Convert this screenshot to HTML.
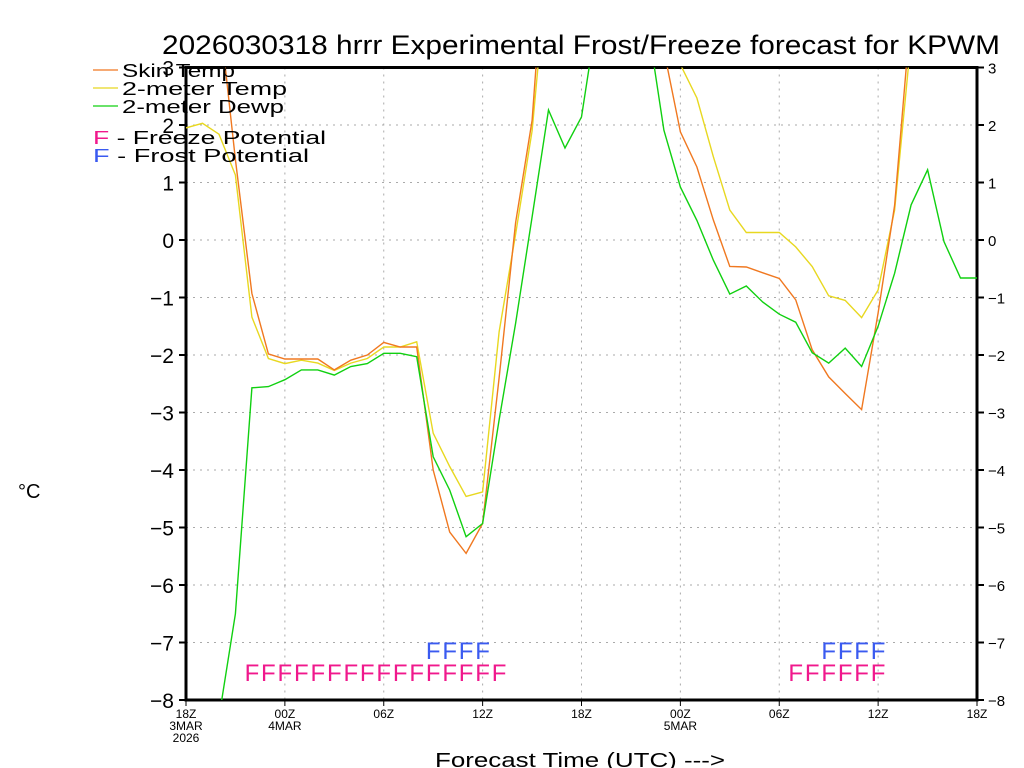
<!DOCTYPE html>
<html><head><meta charset="utf-8">
<style>
html,body{margin:0;padding:0;background:#fff;overflow:hidden;width:1024px;height:768px;}
svg{display:block;font-family:"Liberation Sans","DejaVu Sans",sans-serif;}
</style></head>
<body>
<svg id="chart" width="1024" height="768" viewBox="0 0 1024 768">
<text x="162" y="54" font-size="27" fill="#000" textLength="838" lengthAdjust="spacingAndGlyphs">2026030318 hrrr Experimental Frost/Freeze forecast for KPWM</text>
<text x="18" y="498" font-size="20" fill="#000">°C</text>
<text x="435" y="767" font-size="20" fill="#000" textLength="290" lengthAdjust="spacingAndGlyphs">Forecast Time (UTC) ---&gt;</text>
<g id="grid"></g>
<g id="axes"></g>
<g id="series"></g>
<g id="flags"></g>
<g font-size="18">
  <line x1="93" y1="70" x2="118" y2="70" stroke="#f07820" stroke-width="1.3"/>
  <text x="122" y="77" textLength="113" lengthAdjust="spacingAndGlyphs">Skin Temp</text>
  <line x1="93" y1="88" x2="118" y2="88" stroke="#e8d820" stroke-width="1.3"/>
  <text x="122" y="95" textLength="165" lengthAdjust="spacingAndGlyphs">2-meter Temp</text>
  <line x1="93" y1="106" x2="118" y2="106" stroke="#10d010" stroke-width="1.3"/>
  <text x="122" y="113" textLength="162" lengthAdjust="spacingAndGlyphs">2-meter Dewp</text>
  <text x="93" y="144" textLength="233" lengthAdjust="spacingAndGlyphs"><tspan fill="#f0188c">F</tspan> - Freeze Potential</text>
  <text x="93" y="162" textLength="216" lengthAdjust="spacingAndGlyphs"><tspan fill="#3a5af0">F</tspan> - Frost Potential</text>
</g>
</svg>
<script>
const hours = [0,1,2,3,4,5,6,7,8,9,10,11,12,13,14,15,16,17,18,19,20,21,22,23,24,25,26,27,28,29,30,31,32,33,34,35,36,37,38,39,40,41,42,43,44,45,46,47,48];
const skinTemp = [5,5,4,1.4,-0.93,-1.98,-2.07,-2.07,-2.07,-2.26,-2.09,-2.0,-1.78,-1.86,-1.86,-4.0,-5.08,-5.45,-4.93,-2.4,0.3,2.08,6,6,6,6,6,6,6,3.3,1.88,1.27,0.35,-0.46,-0.47,-0.57,-0.67,-1.04,-1.91,-2.38,-2.67,-2.95,-1.27,0.6,4,null,null,null,null];
const temp2m = [1.95,2.03,1.84,1.13,-1.34,-2.06,-2.15,-2.09,-2.14,-2.27,-2.14,-2.06,-1.86,-1.86,-1.77,-3.36,-3.94,-4.46,-4.38,-1.6,0.1,1.9,5,5,5,5,5,5,5,5,3.05,2.47,1.45,0.52,0.13,0.13,0.13,-0.12,-0.46,-0.97,-1.05,-1.35,-0.87,0.52,3.5,null,null,null,null];
const dewp2m = [-12,-10,-8.3,-6.5,-2.57,-2.55,-2.43,-2.26,-2.26,-2.35,-2.2,-2.15,-1.97,-1.97,-2.03,-3.77,-4.35,-5.16,-4.93,-3.13,-1.45,0.4,2.26,1.6,2.14,4,5,5,3.8,1.91,0.92,0.34,-0.35,-0.94,-0.8,-1.08,-1.29,-1.43,-1.96,-2.14,-1.88,-2.2,-1.5,-0.58,0.61,1.22,-0.03,-0.66,-0.66];
const freezeHours = [4,5,6,7,8,9,10,11,12,13,14,15,16,17,18,19,37,38,39,40,41,42];
const frostHours = [15,16,17,18,39,40,41,42];
const yTicks = [3,2,1,0,-1,-2,-3,-4,-5,-6,-7,-8];
const xTickHours = [0,6,12,18,24,30,36,42,48];
const xTickLabels = ["18Z","00Z","06Z","12Z","18Z","00Z","06Z","12Z","18Z"];
const xTickSub = ["3MAR","4MAR","","","","5MAR","","",""];

const NS="http://www.w3.org/2000/svg";
const L=186,R=977,T=67.5,B=700,HMAX=48,VMIN=-8,VMAX=3;
function xs(h){return L+(h/HMAX)*(R-L);}
function ys(v){return B-(v-VMIN)/(VMAX-VMIN)*(B-T);}
function mk(tag,attrs,parent){const e=document.createElementNS(NS,tag);for(const k in attrs)e.setAttribute(k,attrs[k]);parent.appendChild(e);return e;}
const grid=document.getElementById('grid'),axes=document.getElementById('axes'),series=document.getElementById('series'),flags=document.getElementById('flags');

yTicks.forEach(v=>{
  const y=ys(v);
  if(v>VMIN&&v<VMAX){const g=mk('line',{x1:L,x2:R,y1:y,y2:y,stroke:'#aaa','stroke-dasharray':'2,5'},grid);
  
  }
  const t1=mk('line',{x1:L-7,x2:L,y1:y,y2:y,stroke:'#000','stroke-width':2},axes);
  
  
  const t2=mk('line',{x1:R,x2:R+7,y1:y,y2:y,stroke:'#000','stroke-width':2},axes);
  
  
  const lb=mk('text',{x:L-12,y:y+8,'text-anchor':'end','font-size':21},axes);
  lb.textContent=String(v).replace('-','\u2212');
  
  
  const rb=mk('text',{x:R+11,y:y+6,'font-size':15},axes);
  rb.textContent=String(v).replace('-','\u2212');
  
  
});
xTickHours.forEach((h,i)=>{
  const x=xs(h);
  if(h>0&&h<HMAX){const g=mk('line',{x1:x,x2:x,y1:T,y2:B,stroke:'#aaa','stroke-dasharray':'2,5'},grid);
  
  }
  const t=mk('line',{x1:x,x2:x,y1:B,y2:B+6,stroke:'#000','stroke-width':1},axes);
  
  
  const lb=mk('text',{x:x,y:B+18,'text-anchor':'middle','font-size':12},axes);
  lb.textContent=xTickLabels[i];
  
  
  if(xTickSub[i]){const s=mk('text',{x:x,y:B+30,'text-anchor':'middle','font-size':12},axes);
  s.textContent=xTickSub[i];
  
  }
});
const yr=mk('text',{x:xs(0),y:B+42,'text-anchor':'middle','font-size':12},axes);
yr.textContent='2026';


const frame=mk('rect',{x:L,y:T,width:R-L,height:B-T,fill:'none',stroke:'#000','stroke-width':3},axes);



const clip=mk('clipPath',{id:'pc'},series);
mk('rect',{x:L,y:T,width:R-L,height:B-T},clip);
function line(vals,color,name){
  let d='';let pen=false;
  vals.forEach((v,i)=>{if(v===null){pen=false;return;}d+=(pen?'L':'M')+xs(hours[i]).toFixed(1)+','+ys(v).toFixed(1);pen=true;});
  const p=mk('path',{d:d,fill:'none',stroke:color,'stroke-width':1.4,'clip-path':'url(#pc)'},series);
  
  
}
line(temp2m,'#e8d820','line-2m-temp');
line(skinTemp,'#f07820','line-skin-temp');
line(dewp2m,'#10d010','line-2m-dewp');

freezeHours.forEach(h=>{
  const t=mk('text',{x:xs(h),y:681,'text-anchor':'middle','font-size':24,fill:'#f0188c'},flags);
  t.textContent='F';
  
  
});
frostHours.forEach(h=>{
  const t=mk('text',{x:xs(h),y:659,'text-anchor':'middle','font-size':24,fill:'#3a5af0'},flags);
  t.textContent='F';
  
  
});
</script>
</body></html>
